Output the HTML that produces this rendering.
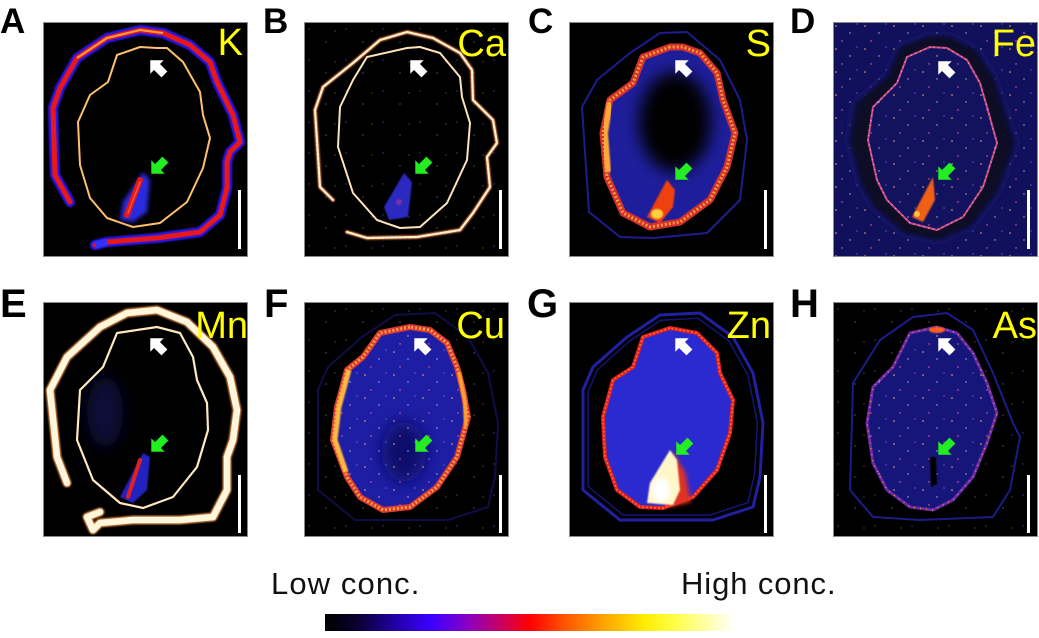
<!DOCTYPE html>
<html>
<head>
<meta charset="utf-8">
<style>
html,body{margin:0;padding:0;background:#fff;}
body{width:1039px;height:638px;overflow:hidden;}
svg{display:block;}
</style>
</head>
<body>
<svg width="1039" height="638" viewBox="0 0 1039 638" xmlns="http://www.w3.org/2000/svg">
<defs>
  <linearGradient id="fire" x1="0" y1="0" x2="1" y2="0">
    <stop offset="0" stop-color="#000000"/>
    <stop offset="0.08" stop-color="#0a0030"/>
    <stop offset="0.18" stop-color="#2400b0"/>
    <stop offset="0.26" stop-color="#3c00ff"/>
    <stop offset="0.35" stop-color="#8a00c0"/>
    <stop offset="0.43" stop-color="#c80060"/>
    <stop offset="0.5" stop-color="#ff0000"/>
    <stop offset="0.58" stop-color="#ff5000"/>
    <stop offset="0.68" stop-color="#ffa400"/>
    <stop offset="0.78" stop-color="#ffee00"/>
    <stop offset="0.86" stop-color="#ffff50"/>
    <stop offset="0.93" stop-color="#ffffa8"/>
    <stop offset="1" stop-color="#ffffff"/>
  </linearGradient>
  <filter id="b1" x="-20%" y="-20%" width="140%" height="140%"><feGaussianBlur stdDeviation="0.8"/></filter>
  <filter id="b2" x="-30%" y="-30%" width="160%" height="160%"><feGaussianBlur stdDeviation="2"/></filter>
  <filter id="b4" x="-30%" y="-30%" width="160%" height="160%"><feGaussianBlur stdDeviation="4"/></filter>
  <filter id="b8" x="-60%" y="-60%" width="220%" height="220%"><feGaussianBlur stdDeviation="8"/></filter>
  <clipPath id="cp"><rect x="0" y="0" width="205" height="235"/></clipPath>
  <polygon id="arr" points="-9.5,0 0,-9.5 0,-4.2 10.5,-4.2 10.5,4.2 0,4.2 0,9.5"/>
  <pattern id="dots" width="29" height="23" patternUnits="userSpaceOnUse">
    <circle cx="3" cy="4" r="0.8" fill="#ffb060"/>
    <circle cx="17" cy="11" r="0.7" fill="#ffffff" opacity="0.7"/>
    <circle cx="9" cy="19" r="0.7" fill="#ff60a0"/>
    <circle cx="24" cy="2" r="0.6" fill="#8080ff"/>
  </pattern>
  <pattern id="dots2" width="37" height="31" patternUnits="userSpaceOnUse">
    <circle cx="5" cy="7" r="0.7" fill="#6060ff" opacity="0.6"/>
    <circle cx="22" cy="20" r="0.6" fill="#ffffff" opacity="0.5"/>
    <circle cx="31" cy="9" r="0.6" fill="#ff9050" opacity="0.6"/>
  </pattern>
</defs>

<rect x="0" y="0" width="1039" height="638" fill="#ffffff"/>

<!-- Panel A : K -->
<g transform="translate(43,22)">
 <g clip-path="url(#cp)">
  <rect width="205" height="235" fill="#000"/>
  <polyline points="27,180 12,153 10,86 17,66 34,36 64,16 97,8 120,11 147,23 167,40 174,60 190,93 197,120 187,130 184,140 184,166 177,193 157,210 114,216 64,220 52,223" fill="none" stroke="#2a18e8" stroke-width="10" stroke-linejoin="round" stroke-linecap="round" filter="url(#b1)"/>
  <polyline points="27,180 12,153 10,86 17,66 34,36 64,16 97,8 120,11 147,23 167,40 174,60 190,93 197,120 187,130 184,140 184,166 177,193 157,210 114,216 64,220 52,223" fill="none" stroke="#e81818" stroke-width="5" stroke-linejoin="round" stroke-linecap="round"/>
  <polyline points="34,36 64,16 97,8 120,11" fill="none" stroke="#ffa040" stroke-width="2" stroke-linejoin="round"/>
  <polyline points="64,220 52,223" fill="none" stroke="#3030ff" stroke-width="7"/>
  <polygon points="114,26 97,25 74,33 65,60 47,73 35,100 37,143 47,176 64,196 90,205 117,201 144,180 160,146 167,116 160,93 157,70 140,40 124,26" fill="none" stroke="#ffc070" stroke-width="2" stroke-linejoin="round"/>
  <polygon points="100,150 107,158 104,190 90,200 77,198 80,180" fill="#2a2ae0" filter="url(#b2)"/>
  <line x1="97" y1="158" x2="84" y2="193" stroke="#e41818" stroke-width="6" stroke-linecap="round"/>
  <line x1="97" y1="160" x2="85" y2="191" stroke="#ff5030" stroke-width="1.5" stroke-linecap="round"/>
  <use href="#arr" transform="translate(114,45) rotate(45)" fill="#ffffff"/>
  <use href="#arr" transform="translate(115,145) rotate(-45)" fill="#22ee22"/>
  <rect x="195" y="168" width="3" height="59" fill="#ffffff"/>
  <text x="200" y="33" text-anchor="end" font-family="Liberation Sans, sans-serif" font-size="38" fill="#ffff00">K</text>
 </g>
 <rect x="0.5" y="0.5" width="204" height="234" fill="none" stroke="#8a8a8a" stroke-width="1"/>
</g>

<!-- Panel B : Ca -->
<g transform="translate(304,22)">
 <g clip-path="url(#cp)">
  <rect width="205" height="235" fill="#000"/>
  <rect width="205" height="235" fill="url(#dots2)"/>
  <polyline points="29,178 16,165 11,88 19,65 49,41 76,18 103,10 129,16 156,31 168,48 169,78 189,98 193,121 183,135 186,165 169,191 156,208 113,215 63,216 43,210" fill="none" stroke="#c86a40" stroke-width="4" stroke-linejoin="round" stroke-linecap="round" filter="url(#b1)"/>
  <polyline points="29,178 16,165 11,88 19,65 49,41 76,18 103,10 129,16 156,31 168,48 169,78 189,98 193,121 183,135 186,165 169,191 156,208 113,215 63,216 43,210" fill="none" stroke="#fff0c8" stroke-width="2.2" stroke-dasharray="3 1.5" stroke-linejoin="round" stroke-linecap="round"/>
  <polygon points="103,26 63,35 49,58 36,85 34,125 49,171 73,198 96,206 116,205 143,181 163,138 166,101 158,75 156,55 136,31 116,25" fill="none" stroke="#ffe4b8" stroke-width="2" stroke-linejoin="round"/>
  <polygon points="100,151 108,160 104,195 85,198 80,185" fill="#2a2ac0" filter="url(#b1)"/>
  <circle cx="95" cy="180" r="3" fill="#8030a0" filter="url(#b1)"/>
  <use href="#arr" transform="translate(113,45) rotate(45)" fill="#ffffff"/>
  <use href="#arr" transform="translate(118,145) rotate(-45)" fill="#22ee22"/>
  <rect x="195" y="168" width="3" height="59" fill="#ffffff"/>
  <text x="202" y="34" text-anchor="end" font-family="Liberation Sans, sans-serif" font-size="38" fill="#ffff00">Ca</text>
 </g>
 <rect x="0.5" y="0.5" width="204" height="234" fill="none" stroke="#8a8a8a" stroke-width="1"/>
</g>

<!-- Panel C : S -->
<g transform="translate(569,22)">
 <g clip-path="url(#cp)">
  <rect width="205" height="235" fill="#000"/>
  <polygon points="13,85 28,58 61,31 91,11 118,10 151,38 171,78 178,118 171,178 138,211 84,216 51,215 20,190" fill="none" stroke="#1c1c8c" stroke-width="2" stroke-linejoin="round"/>
  <polygon points="101,25 74,35 64,61 41,78 34,111 38,155 54,191 81,205 111,200 141,178 158,145 166,111 154,78 148,51 131,31 114,25" fill="#1e1e9c" stroke="#d03030" stroke-width="7" stroke-linejoin="round"/>
  <ellipse cx="106" cy="100" rx="36" ry="50" fill="#000" filter="url(#b8)"/>
  <polygon points="101,25 74,35 64,61 41,78 34,111 38,155 54,191 81,205 111,200 141,178 158,145 166,111 154,78 148,51 131,31 114,25" fill="none" stroke="#ff9a30" stroke-width="3" stroke-dasharray="2 2" stroke-linejoin="round"/>
  <polyline points="41,80 36,111 39,150" fill="none" stroke="#ffa838" stroke-width="6" stroke-linejoin="round" filter="url(#b1)"/>
  <polygon points="98,158 78,195 91,201 104,185 106,168" fill="#f04010" filter="url(#b1)"/>
  <ellipse cx="88" cy="192" rx="6" ry="5" fill="#ffd040" filter="url(#b1)"/>
  <use href="#arr" transform="translate(113,45) rotate(45)" fill="#ffffff"/>
  <use href="#arr" transform="translate(113,151) rotate(-45)" fill="#22ee22"/>
  <rect x="195" y="168" width="3" height="59" fill="#ffffff"/>
  <text x="202" y="34" text-anchor="end" font-family="Liberation Sans, sans-serif" font-size="38" fill="#ffff00">S</text>
 </g>
 <rect x="0.5" y="0.5" width="204" height="234" fill="none" stroke="#8a8a8a" stroke-width="1"/>
</g>

<!-- Panel D : Fe -->
<g transform="translate(833,22)">
 <g clip-path="url(#cp)">
  <rect width="205" height="235" fill="#10105c"/>
  <rect width="205" height="235" fill="url(#dots)"/>
  <polygon transform="translate(100,118) scale(1.32,1.14) translate(-100,-118)" points="97,25 74,35 64,61 40,85 35,118 44,158 54,178 77,201 104,208 130,195 150,165 164,121 154,85 147,61 134,38 114,26" fill="#080826" stroke="#24248a" stroke-width="1.2" filter="url(#b2)"/>
  <polygon points="97,25 74,35 64,61 40,85 35,118 44,158 54,178 77,201 104,208 130,195 150,165 164,121 154,85 147,61 134,38 114,26" fill="#12125e" stroke="#c04890" stroke-width="2" stroke-linejoin="round"/>
  <polygon points="97,25 74,35 64,61 40,85 35,118 44,158 54,178 77,201 104,208 130,195 150,165 164,121 154,85 147,61 134,38 114,26" fill="url(#dots)" stroke="#ffa060" stroke-width="1.5" stroke-dasharray="1 4" stroke-linejoin="round"/>
  <polygon points="100,155 79,195 90,200 102,178" fill="#f06018" filter="url(#b1)"/>
  <circle cx="84" cy="192" r="3" fill="#ffc040"/>
  <use href="#arr" transform="translate(112,46) rotate(45)" fill="#ffffff"/>
  <use href="#arr" transform="translate(112,151) rotate(-45)" fill="#22ee22"/>
  <rect x="194" y="168" width="3" height="59" fill="#ffffff"/>
  <text x="203" y="34" text-anchor="end" font-family="Liberation Sans, sans-serif" font-size="38" fill="#ffff00">Fe</text>
 </g>
 <rect x="0.5" y="0.5" width="204" height="234" fill="none" stroke="#8a8a8a" stroke-width="1"/>
</g>

<!-- Panel E : Mn -->
<g transform="translate(43,302)">
 <g clip-path="url(#cp)">
  <rect width="205" height="235" fill="#000"/>
  <ellipse cx="62" cy="110" rx="18" ry="35" fill="#0a0a3a" filter="url(#b8)"/>
  <polyline points="24,181 14,155 7,88 24,55 57,25 84,11 114,8 144,20 170,45 187,75 194,108 190,138 184,155 184,188 170,215 137,218 90,218 57,221 50,228 44,215 57,210" fill="none" stroke="#d08040" stroke-width="9" stroke-linejoin="round" stroke-linecap="round" filter="url(#b1)"/>
  <polyline points="24,181 14,155 7,88 24,55 57,25 84,11 114,8 144,20 170,45 187,75 194,108 190,138 184,155 184,188 170,215 137,218 90,218 57,221 50,228 44,215 57,210" fill="none" stroke="#fff6dc" stroke-width="6.5" stroke-linejoin="round" stroke-linecap="round"/>
  <polygon points="114,25 74,31 60,65 37,88 34,138 50,178 77,201 100,206 130,195 154,165 165,128 164,101 154,78 150,55 137,31" fill="none" stroke="#ffe8c0" stroke-width="2.2" stroke-linejoin="round"/>
  <polygon points="100,151 77,195 90,201 104,188 107,155" fill="#2424c0" filter="url(#b1)"/>
  <line x1="97" y1="158" x2="85" y2="195" stroke="#e02020" stroke-width="4" stroke-linecap="round"/>
  <use href="#arr" transform="translate(114,43) rotate(45)" fill="#ffffff"/>
  <use href="#arr" transform="translate(115,143) rotate(-45)" fill="#22ee22"/>
  <rect x="195" y="173" width="3" height="58" fill="#ffffff"/>
  <text x="205" y="36" text-anchor="end" font-family="Liberation Sans, sans-serif" font-size="38" fill="#ffff00">Mn</text>
 </g>
 <rect x="0.5" y="0.5" width="204" height="234" fill="none" stroke="#8a8a8a" stroke-width="1"/>
</g>

<!-- Panel F : Cu -->
<g transform="translate(304,302)">
 <g clip-path="url(#cp)">
  <rect width="205" height="235" fill="#000"/>
  <rect width="205" height="235" fill="url(#dots2)"/>
  <polygon points="14,88 24,65 58,35 91,13 131,11 164,35 184,71 194,121 191,175 184,205 144,218 84,218 51,218 14,188" fill="none" stroke="#0e0e48" stroke-width="2" stroke-linejoin="round"/>
  <polygon points="106,25 76,31 59,55 43,68 33,105 29,138 43,175 56,195 79,208 106,205 133,185 153,155 164,115 159,88 153,65 143,41 126,28" fill="#1e1ea4" stroke="#d83838" stroke-width="6" stroke-linejoin="round"/>
  <ellipse cx="100" cy="150" rx="22" ry="30" fill="#10106a" filter="url(#b8)"/>
  <polygon points="106,25 76,31 59,55 43,68 33,105 29,138 43,175 56,195 79,208 106,205 133,185 153,155 164,115 159,88 153,65 143,41 126,28" fill="url(#dots)" stroke="#ffa030" stroke-width="3" stroke-dasharray="2 2" stroke-linejoin="round"/>
  <polyline points="45,68 35,105 31,138 42,170" fill="none" stroke="#ffb840" stroke-width="5" stroke-linejoin="round" filter="url(#b1)"/>
  <polyline points="155,70 161,100 162,125" fill="none" stroke="#ffa030" stroke-width="4" stroke-linejoin="round" filter="url(#b1)"/>
  <use href="#arr" transform="translate(117,43) rotate(45)" fill="#ffffff"/>
  <use href="#arr" transform="translate(118,143) rotate(-45)" fill="#22ee22"/>
  <rect x="195" y="173" width="3" height="58" fill="#ffffff"/>
  <text x="201" y="36" text-anchor="end" font-family="Liberation Sans, sans-serif" font-size="38" fill="#ffff00">Cu</text>
 </g>
 <rect x="0.5" y="0.5" width="204" height="234" fill="none" stroke="#8a8a8a" stroke-width="1"/>
</g>

<!-- Panel G : Zn -->
<g transform="translate(569,302)">
 <g clip-path="url(#cp)">
  <rect width="205" height="235" fill="#000"/>
  <polygon points="14,88 24,65 58,35 91,13 131,11 164,35 184,71 194,121 191,175 184,205 144,218 84,218 51,218 14,188" fill="none" stroke="#2020a0" stroke-width="3" stroke-linejoin="round"/>
  <polygon transform="translate(100,118) scale(0.94,0.95) translate(-100,-118)" points="14,88 24,65 58,35 91,13 131,11 164,35 184,71 194,121 191,175 184,205 144,218 84,218 51,218 14,188" fill="none" stroke="#16167a" stroke-width="1.5" stroke-linejoin="round"/>
  <polygon points="101,26 74,35 64,65 44,78 34,115 36,155 48,188 71,205 94,206 124,195 148,168 161,131 164,98 151,71 148,51 128,31" fill="#2a2ad0" stroke="#e02020" stroke-width="4" stroke-linejoin="round"/>
  <polygon points="101,26 74,35 64,65 44,78 34,115 36,155 48,188 71,205 94,206 124,195 148,168 161,131 164,98 151,71 148,51 128,31" fill="none" stroke="#ff7030" stroke-width="1.5" stroke-dasharray="2 2" stroke-linejoin="round"/>
  <polygon points="104,150 116,170 122,200 100,205 90,190" fill="#e03020" filter="url(#b2)"/>
  <polygon points="101,148 81,181 78,201 104,203 111,188 108,158" fill="#fff6c8" filter="url(#b1)"/>
  <ellipse cx="92" cy="188" rx="9" ry="12" fill="#ffffff" filter="url(#b2)"/>
  <use href="#arr" transform="translate(113,43) rotate(45)" fill="#ffffff"/>
  <use href="#arr" transform="translate(114,146) rotate(-45)" fill="#22ee22"/>
  <rect x="195" y="173" width="3" height="58" fill="#ffffff"/>
  <text x="202" y="36" text-anchor="end" font-family="Liberation Sans, sans-serif" font-size="38" fill="#ffff00">Zn</text>
 </g>
 <rect x="0.5" y="0.5" width="204" height="234" fill="none" stroke="#8a8a8a" stroke-width="1"/>
</g>

<!-- Panel H : As -->
<g transform="translate(833,302)">
 <g clip-path="url(#cp)">
  <rect width="205" height="235" fill="#000"/>
  <rect width="205" height="235" fill="url(#dots2)"/>
  <polygon points="20,81 47,38 80,15 114,11 140,28 160,71 180,121 187,135 177,188 160,215 87,218 40,215 17,188" fill="none" stroke="#1c1c88" stroke-width="2" stroke-linejoin="round"/>
  <polygon points="104,25 77,31 60,65 40,85 34,121 40,161 54,188 77,205 100,208 120,198 140,175 154,141 164,111 154,81 140,51 124,31" fill="#16167a" stroke="#6a2aa8" stroke-width="3" stroke-linejoin="round"/>
  <polygon points="104,25 77,31 60,65 40,85 34,121 40,161 54,188 77,205 100,208 120,198 140,175 154,141 164,111 154,81 140,51 124,31" fill="url(#dots)" stroke="#ff8040" stroke-width="1.5" stroke-dasharray="1 5" stroke-linejoin="round"/>
  <ellipse cx="104" cy="28" rx="8" ry="3" fill="#ff6020" filter="url(#b1)"/>
  <polygon points="97,155 103,155 104,182 98,185" fill="#000" filter="url(#b1)"/>
  <use href="#arr" transform="translate(112,43) rotate(45)" fill="#ffffff"/>
  <use href="#arr" transform="translate(112,146) rotate(-45)" fill="#22ee22"/>
  <rect x="194" y="173" width="3" height="58" fill="#ffffff"/>
  <text x="204" y="36" text-anchor="end" font-family="Liberation Sans, sans-serif" font-size="38" fill="#ffff00">As</text>
 </g>
 <rect x="0.5" y="0.5" width="204" height="234" fill="none" stroke="#8a8a8a" stroke-width="1"/>
</g>

<!-- Panel letters -->
<g font-family="Liberation Sans, sans-serif" font-weight="bold" fill="#000">
  <text x="0" y="33" font-size="35">A</text>
  <text x="263" y="33" font-size="35">B</text>
  <text x="528" y="33" font-size="35">C</text>
  <text x="790" y="33" font-size="35">D</text>
  <text x="0" y="317" font-size="40">E</text>
  <text x="264" y="317" font-size="40">F</text>
  <text x="527" y="317" font-size="40">G</text>
  <text x="790" y="317" font-size="40">H</text>
</g>

<!-- Color bar -->
<text x="271" y="594" font-family="Liberation Sans, sans-serif" font-size="31" letter-spacing="1.1" fill="#111">Low conc.</text>
<text x="681" y="594" font-family="Liberation Sans, sans-serif" font-size="31" letter-spacing="0.9" fill="#111">High conc.</text>
<rect x="325" y="614" width="410" height="17" fill="url(#fire)"/>
</svg>
</body>
</html>
